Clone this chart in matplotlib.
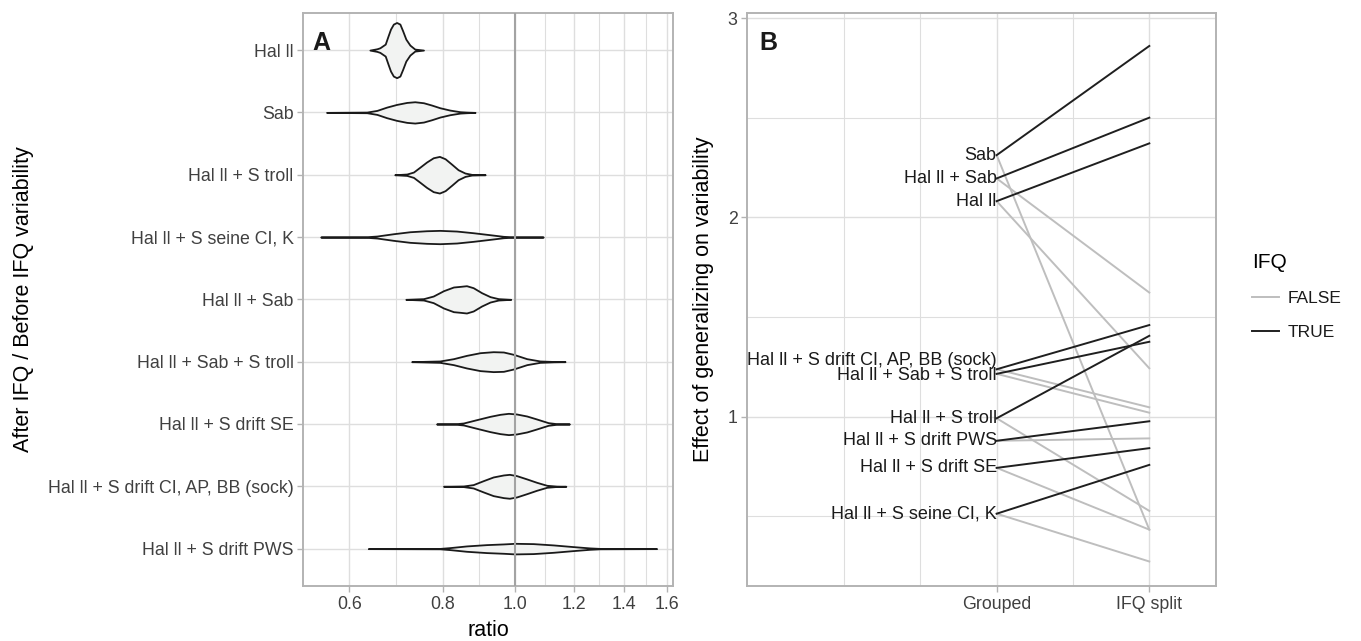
import numpy as np
import matplotlib
matplotlib.use("Agg")
import matplotlib.pyplot as plt
from matplotlib.lines import Line2D
from matplotlib.ticker import FixedLocator, NullFormatter

plt.rcParams['font.family'] = ['Liberation Sans', 'DejaVu Sans']

# --- panel A: ratio distributions (top to bottom) ---
groups_a = ["Hal ll", "Sab", "Hal ll + S troll", "Hal ll + S seine CI, K",
            "Hal ll + Sab", "Hal ll + Sab + S troll", "Hal ll + S drift SE",
            "Hal ll + S drift CI, AP, BB (sock)", "Hal ll + S drift PWS"]

# violin outlines: ratio values and half widths (in category units)
violin_ratio = [
    [0.639, 0.653, 0.659, 0.670, 0.676, 0.681, 0.687, 0.694, 0.701, 0.707, 0.714, 0.723, 0.734, 0.754],
    [0.559, 0.633, 0.653, 0.673, 0.694, 0.716, 0.734, 0.754, 0.773, 0.793, 0.818, 0.844, 0.861, 0.884],
    [0.690, 0.716, 0.731, 0.746, 0.761, 0.777, 0.792, 0.806, 0.823, 0.839, 0.857, 0.875, 0.912],
    [0.549, 0.633, 0.653, 0.687, 0.723, 0.761, 0.793, 0.835, 0.879, 0.926, 0.965, 0.995, 1.091],
    [0.714, 0.754, 0.777, 0.802, 0.827, 0.844, 0.861, 0.879, 0.902, 0.926, 0.950, 0.987],
    [0.727, 0.793, 0.827, 0.861, 0.898, 0.935, 0.965, 0.995, 1.037, 1.080, 1.126, 1.167],
    [0.785, 0.835, 0.853, 0.888, 0.926, 0.955, 0.980, 1.005, 1.037, 1.069, 1.108, 1.137, 1.183],
    [0.802, 0.853, 0.879, 0.907, 0.935, 0.965, 0.983, 1.005, 1.037, 1.069, 1.103, 1.137, 1.170],
    [0.636, 0.793, 0.818, 0.861, 0.916, 0.965, 1.000, 1.058, 1.126, 1.197, 1.260, 1.300, 1.548],
]
violin_halfwidth = [
    [0, 0.021, 0.037, 0.096, 0.230, 0.337, 0.417, 0.443, 0.417, 0.310, 0.176, 0.080, 0.016, 0],
    [0, 0.005, 0.032, 0.085, 0.128, 0.160, 0.171, 0.155, 0.118, 0.075, 0.037, 0.011, 0.005, 0],
    [0, 0.011, 0.043, 0.123, 0.203, 0.272, 0.294, 0.256, 0.166, 0.080, 0.027, 0.005, 0],
    [0, 0.005, 0.016, 0.053, 0.085, 0.101, 0.107, 0.096, 0.069, 0.037, 0.011, 0.003, 0],
    [0, 0.011, 0.053, 0.139, 0.198, 0.208, 0.219, 0.187, 0.107, 0.043, 0.011, 0],
    [0, 0.011, 0.048, 0.101, 0.144, 0.160, 0.155, 0.118, 0.048, 0.011, 0.003, 0],
    [0, 0.005, 0.016, 0.069, 0.123, 0.155, 0.171, 0.160, 0.128, 0.080, 0.021, 0.005, 0],
    [0, 0.005, 0.027, 0.091, 0.150, 0.182, 0.192, 0.171, 0.118, 0.064, 0.016, 0.003, 0],
    [0, 0.003, 0.016, 0.043, 0.064, 0.075, 0.085, 0.080, 0.059, 0.032, 0.011, 0.003, 0],
]
ratio_ticks = [0.6, 0.8, 1.0, 1.2, 1.4, 1.6]

# --- panel B: effect of generalizing, grouped vs IFQ split ---
groups_b = ["Sab", "Hal ll + Sab", "Hal ll", "Hal ll + S drift CI, AP, BB (sock)",
            "Hal ll + Sab + S troll", "Hal ll + S troll", "Hal ll + S drift PWS",
            "Hal ll + S drift SE", "Hal ll + S seine CI, K"]
grouped = [2.313, 2.196, 2.082, 1.238, 1.215, 0.992, 0.879, 0.743, 0.513]
split_true = [2.861, 2.501, 2.372, 1.460, 1.376, 1.406, 0.977, 0.842, 0.758]
split_false = [0.433, 1.623, 1.243, 1.047, 1.020, 0.527, 0.891, 0.433, 0.273]
stages = ["Grouped", "IFQ split"]

grid_col = '#DEDEDE'
border_col = '#B3B3B3'
tick_col = '#404040'
col_false = '#BEBEBE'
col_true = '#1F1F1F'

fig = plt.figure(figsize=(13.61, 6.41), dpi=100)
W, H = 1361.0, 641.0
axA = fig.add_axes([303.3 / W, 55 / H, 369.7 / W, 573.3 / H])
axB = fig.add_axes([747.3 / W, 55 / H, 468.7 / W, 573.3 / H])


def style_axes(ax):
    ax.set_axisbelow(True)
    for s in ax.spines.values():
        s.set_color(border_col)
        s.set_linewidth(1.4)
    ax.tick_params(axis='both', which='major', color=border_col, length=4,
                   width=1.0, labelsize=12.8, labelcolor=tick_col, pad=3)
    ax.tick_params(axis='both', which='minor', length=0)
    ax.grid(True, which='major', color=grid_col, linewidth=1.0)
    ax.grid(True, which='minor', color=grid_col, linewidth=0.8)


# ---- A ----
n = len(groups_a)
pos = np.arange(n, 0, -1)
for p, r, w in zip(pos, violin_ratio, violin_halfwidth):
    r = np.array(r)
    w = np.array(w)
    axA.fill_between(r, p - w, p + w, facecolor='#F2F3F2', edgecolor='#1A1A1A',
                     linewidth=1.3, joinstyle='round', zorder=3)
axA.axvline(1.0, color='#A3A3A3', linewidth=1.5, zorder=4)

axA.set_xscale('log')
axA.set_xlim(0.5203, 1.6285)
axA.set_ylim(0.4, n + 0.6)
axA.xaxis.set_major_locator(FixedLocator(ratio_ticks))
axA.xaxis.set_minor_locator(FixedLocator(
    [np.sqrt(a * b) for a, b in zip(ratio_ticks[:-1], ratio_ticks[1:])]))
axA.xaxis.set_minor_formatter(NullFormatter())
axA.set_xticklabels([f"{t:.1f}" for t in ratio_ticks])
axA.set_yticks(pos)
axA.set_yticklabels(groups_a)
style_axes(axA)
axA.set_xlabel("ratio", fontsize=15.5, labelpad=5)
axA.set_ylabel("After IFQ / Before IFQ variability", fontsize=15.5, labelpad=10)
axA.text(0.024, 0.968, "A", transform=axA.transAxes, fontsize=18,
         fontweight='bold', va='top', ha='left', color='#1A1A1A')

# ---- B ----
xs = [1, 2]
for g0, f in zip(grouped, split_false):
    axB.plot(xs, [g0, f], color=col_false, linewidth=1.4, zorder=3)
for g0, t in zip(grouped, split_true):
    axB.plot(xs, [g0, t], color=col_true, linewidth=1.4, zorder=3)

label_nudge = {"Hal ll + S drift CI, AP, BB (sock)": 0.042,
               "Hal ll + Sab + S troll": -0.01}
for name, g0 in zip(groups_b, grouped):
    axB.text(1, g0 + label_nudge.get(name, 0), name, ha='right', va='center',
             fontsize=13, color='#1A1A1A', zorder=5)

axB.set_xlim(-0.634, 2.437)
axB.set_ylim(0.150, 3.028)
axB.set_xticks(xs)
axB.set_xticklabels(stages)
axB.xaxis.set_minor_locator(FixedLocator([0, 0.5, 1.5]))
axB.set_yticks([1, 2, 3])
axB.set_yticklabels(["1", "2", "3"])
axB.yaxis.set_minor_locator(FixedLocator([0.5, 1.5, 2.5]))
style_axes(axB)
axB.set_ylabel("Effect of generalizing on variability", fontsize=15.5, labelpad=10)
axB.text(0.026, 0.968, "B", transform=axB.transAxes, fontsize=18,
         fontweight='bold', va='top', ha='left', color='#1A1A1A')

handles = [Line2D([], [], color=col_false, linewidth=1.4, label='FALSE'),
           Line2D([], [], color=col_true, linewidth=1.4, label='TRUE')]
leg = fig.legend(handles=handles, title='IFQ', loc='upper left',
                 bbox_to_anchor=(1236 / W, 1 - 237 / H), frameon=False,
                 fontsize=12.5, title_fontsize=15, handlelength=1.6,
                 handletextpad=0.5, labelspacing=1.1, alignment='left')
for t in leg.get_texts():
    t.set_color('#1A1A1A')

fig.savefig("out.png", dpi=100)
